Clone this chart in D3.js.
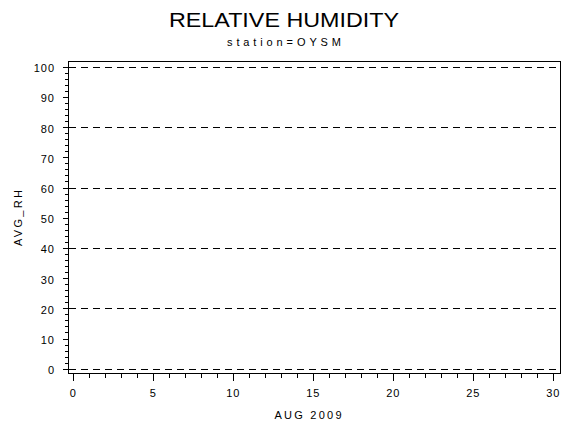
<!DOCTYPE html>
<html>
<head>
<meta charset="utf-8">
<script src="https://cdn.jsdelivr.net/npm/d3@7"></script>
<style>
  body { margin: 0; background: #fff; }
  text { font-family: "Liberation Sans", Arial, sans-serif; fill: #000; }
</style>
</head>
<body>
<div id="canvas"></div>
<script>
// chart values
var title = "RELATIVE HUMIDITY";
var subtitle = "station=OYSM";
var xLabel = "AUG 2009";
var yLabel = "AVG_RH";
var xDomain = [0, 30];
var yDomain = [0, 100];
var xTickValues = [0, 5, 10, 15, 20, 25, 30];
var yTickValues = [0, 10, 20, 30, 40, 50, 60, 70, 80, 90, 100];
var gridValues = [0, 20, 40, 60, 80, 100];
var days = [];   // no observations in this month
var avgRH = [];

var width = 570, height = 430;

var svg = d3.select("#canvas").append("svg")
    .attr("width", width)
    .attr("height", height);

var x = d3.scaleLinear().domain(xDomain).range([73.3, 553.3]);
var y = d3.scaleLinear().domain(yDomain).range([368.7, 66.7]);

// titles
svg.append("text")
    .attr("x", 284).attr("y", 27)
    .attr("text-anchor", "middle")
    .attr("textLength", 230).attr("lengthAdjust", "spacingAndGlyphs")
    .style("font-size", "21px")
    .text(title);

svg.append("text")
    .attr("x", 284).attr("y", 46)
    .attr("text-anchor", "middle")
    .attr("textLength", 114).attr("lengthAdjust", "spacing")
    .style("font-size", "11px")
    .text(subtitle);

// frame
svg.append("rect")
    .attr("x", 68.5).attr("y", 61.5)
    .attr("width", 492).attr("height", 312)
    .attr("fill", "none")
    .attr("stroke", "black")
    .attr("stroke-width", 1);

// dashed reference lines
svg.selectAll(".grid").data(gridValues).enter().append("line")
    .attr("class", "grid")
    .attr("x1", 69).attr("x2", 560)
    .attr("y1", function(d) { return Math.round(y(d)) + 0.5; })
    .attr("y2", function(d) { return Math.round(y(d)) + 0.5; })
    .attr("stroke", "black")
    .attr("stroke-width", 1)
    .attr("stroke-dasharray", "7,5");

// y axis ticks
var yMinor = d3.range(0, 101, 2);
svg.selectAll(".ymin").data(yMinor).enter().append("line")
    .attr("x1", 65).attr("x2", 68.5)
    .attr("y1", function(d) { return Math.round(y(d)) + 0.5; })
    .attr("y2", function(d) { return Math.round(y(d)) + 0.5; })
    .attr("stroke", "black");
svg.selectAll(".ymaj").data(yTickValues).enter().append("line")
    .attr("x1", 63).attr("x2", 68.5)
    .attr("y1", function(d) { return Math.round(y(d)) + 0.5; })
    .attr("y2", function(d) { return Math.round(y(d)) + 0.5; })
    .attr("stroke", "black");
svg.selectAll(".ylab").data(yTickValues).enter().append("text")
    .attr("x", 55)
    .attr("y", function(d) { return y(d) + 5.5; })
    .attr("text-anchor", "end")
    .attr("letter-spacing", "1px")
    .style("font-size", "11px")
    .text(function(d) { return d; });

// x axis ticks
var xMinor = d3.range(0, 31, 1);
svg.selectAll(".xmin").data(xMinor).enter().append("line")
    .attr("x1", function(d) { return Math.round(x(d)) + 0.5; })
    .attr("x2", function(d) { return Math.round(x(d)) + 0.5; })
    .attr("y1", 373.5).attr("y2", 378)
    .attr("stroke", "black");
svg.selectAll(".xmaj").data(xTickValues).enter().append("line")
    .attr("x1", function(d) { return Math.round(x(d)) + 0.5; })
    .attr("x2", function(d) { return Math.round(x(d)) + 0.5; })
    .attr("y1", 373.5).attr("y2", 381)
    .attr("stroke", "black");
svg.selectAll(".xlab").data(xTickValues).enter().append("text")
    .attr("x", function(d) { return x(d); })
    .attr("y", 397)
    .attr("text-anchor", "middle")
    .attr("letter-spacing", "1px")
    .style("font-size", "11px")
    .text(function(d) { return d; });

// axis labels
svg.append("text")
    .attr("x", 308).attr("y", 419)
    .attr("text-anchor", "middle")
    .attr("textLength", 67).attr("lengthAdjust", "spacing")
    .style("font-size", "11px")
    .text(xLabel);

svg.append("text")
    .attr("transform", "translate(22,218) rotate(-90)")
    .attr("text-anchor", "middle")
    .attr("textLength", 56).attr("lengthAdjust", "spacing")
    .style("font-size", "11px")
    .text(yLabel);

// series (empty for this station/month)
svg.append("path")
    .datum(days.map(function(d, i) { return [d, avgRH[i]]; }))
    .attr("fill", "none")
    .attr("stroke", "black")
    .attr("d", d3.line().x(function(d) { return x(d[0]); }).y(function(d) { return y(d[1]); }));
</script>
</body>
</html>
